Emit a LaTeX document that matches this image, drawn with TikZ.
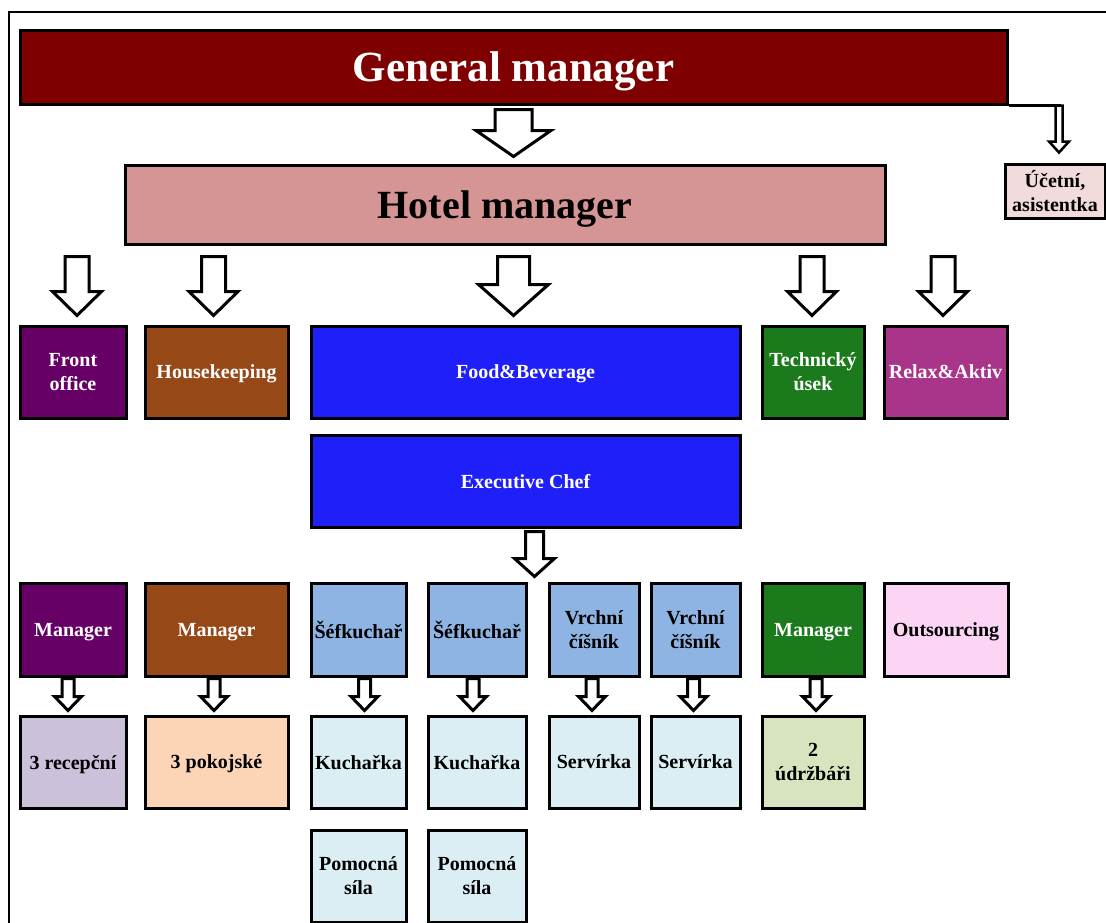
\documentclass[tikz,border=0pt]{standalone}
\usepackage{fontspec}
\setmainfont{Liberation Serif}
\usetikzlibrary{calc}
\definecolor{gmred}{HTML}{7F0000}
\definecolor{hmpink}{HTML}{D69595}
\definecolor{ucetpink}{HTML}{F2DCDB}
\definecolor{fopurple}{HTML}{660066}
\definecolor{hkbrown}{HTML}{974817}
\definecolor{fbblue}{HTML}{1F1FFA}
\definecolor{tugreen}{HTML}{1B7A1B}
\definecolor{ramag}{HTML}{A9358A}
\definecolor{chefblue}{HTML}{8EB4E3}
\definecolor{staffblue}{HTML}{DBEEF4}
\definecolor{recep}{HTML}{CCC1DA}
\definecolor{pokoj}{HTML}{FBD5B5}
\definecolor{udrz}{HTML}{D7E4BD}
\definecolor{outs}{HTML}{FCD5F4}
\tikzset{
  box/.style={draw=black, line width=3pt, inner sep=0pt, align=center,
    font=\fontsize{20}{24}\selectfont\bfseries, text=black},
  oneline/.style={text depth=0pt},
  dark/.style={text=white},
  barrowstyle/.style={draw=black, line width=3pt, fill=white, line join=miter},
  framestyle/.style={draw=black, line width=2pt}
}
\newcommand\hblockarrow[6][]{%
  \draw[barrowstyle,#1] let \p1=#2, \p2=#3 in
    (\x2-#4,\y1) -- (\x2+#4,\y1) -- (\x2+#4,\y2+#6) -- (\x2+#5,\y2+#6)
    -- (\x2,\y2) -- (\x2-#5,\y2+#6) -- (\x2-#4,\y2+#6) -- cycle;}
\begin{document}
\begin{tikzpicture}[x=1pt,y=-1pt]
\useasboundingbox (0,0) rectangle (1106,922);
\draw[framestyle] (9,925) -- (9,12) -- (1110,12);

% top level
\node[box, oneline, dark, fill=gmred, minimum width=987pt, minimum height=74pt,
  font=\fontsize{43}{48}\selectfont\bfseries] (gm) at (513.5,67) {General manager};
\node[box, oneline, fill=hmpink, minimum width=760pt, minimum height=79pt,
  font=\fontsize{40}{46}\selectfont\bfseries] (hm) at (505,204.5) {Hotel manager};
\node[box, fill=ucetpink, minimum width=100pt, minimum height=54pt] (ucet) at (1055,191) {Účetní,\\asistentka};

% row 2
\node[box, dark, fill=fopurple, minimum width=106pt, minimum height=92pt] (fo) at (73,372) {Front\\office};
\node[box, oneline, dark, fill=hkbrown, minimum width=143pt, minimum height=92pt] (hk) at (216.5,372) {Housekeeping};
\node[box, oneline, dark, fill=fbblue, minimum width=429pt, minimum height=92pt] (fb) at (525.5,372) {Food\&Beverage};
\node[box, dark, fill=tugreen, minimum width=102pt, minimum height=92pt] (tu) at (813,372) {Technický\\úsek};
\node[box, oneline, dark, fill=ramag, minimum width=123pt, minimum height=92pt] (ra) at (945.5,372) {Relax\&Aktiv};
\node[box, oneline, dark, fill=fbblue, minimum width=429pt, minimum height=92pt] (ec) at (525.5,481) {Executive Chef};

% row 3
\node[box, oneline, dark, fill=fopurple, minimum width=106pt, minimum height=93pt] (m1) at (73,629.5) {Manager};
\node[box, oneline, dark, fill=hkbrown, minimum width=143pt, minimum height=93pt] (m2) at (216.5,629.5) {Manager};
\node[box, oneline, fill=chefblue, minimum width=95pt, minimum height=93pt] (s1) at (358.5,629.5) {Šéfkuchař};
\node[box, oneline, fill=chefblue, minimum width=98pt, minimum height=93pt] (s2) at (477,629.5) {Šéfkuchař};
\node[box, fill=chefblue, minimum width=90pt, minimum height=93pt] (v1) at (594,629.5) {Vrchní\\číšník};
\node[box, fill=chefblue, minimum width=89pt, minimum height=93pt] (v2) at (695.5,629.5) {Vrchní\\číšník};
\node[box, oneline, dark, fill=tugreen, minimum width=102pt, minimum height=93pt] (m3) at (813,629.5) {Manager};
\node[box, oneline, fill=outs, minimum width=124pt, minimum height=93pt] (out) at (946,629.5) {Outsourcing};

% row 4
\node[box, oneline, fill=recep, minimum width=106pt, minimum height=92pt] (r) at (73,762) {3 recepční};
\node[box, oneline, fill=pokoj, minimum width=143pt, minimum height=92pt] (p) at (216.5,762) {3 pokojské};
\node[box, oneline, fill=staffblue, minimum width=95pt, minimum height=92pt] (k1) at (358.5,762) {Kuchařka};
\node[box, oneline, fill=staffblue, minimum width=98pt, minimum height=92pt] (k2) at (477,762) {Kuchařka};
\node[box, oneline, fill=staffblue, minimum width=90pt, minimum height=92pt] (sv1) at (594,762) {Servírka};
\node[box, oneline, fill=staffblue, minimum width=89pt, minimum height=92pt] (sv2) at (695.5,762) {Servírka};
\node[box, fill=udrz, minimum width=102pt, minimum height=92pt] (ud) at (813,762) {2\\údržbáři};

% row 5
\node[box, fill=staffblue, minimum width=95pt, minimum height=92pt] (ps1) at (358.5,876) {Pomocná\\síla};
\node[box, fill=staffblue, minimum width=98pt, minimum height=92pt] (ps2) at (477,876) {Pomocná\\síla};

% connectors
\hblockarrow{($(gm.south)+(0,4)$)}{($(gm.south |- hm.north)+(0,-7)$)}{18.5pt}{37.5pt}{26pt}
\draw[line width=2.5pt] (gm.south east) -- ($(gm.south east -| ucet.north)+(6,0)$);
\hblockarrow[line width=2.5pt]{(gm.south)}{($(ucet.north)+(4,-10)$)}{3.5pt}{10pt}{11pt}

\hblockarrow{($(hm.south)+(0,11)$)}{($(fo.north)+(4,-9)$)}{12pt}{24.5pt}{24pt}
\hblockarrow{($(hm.south)+(0,11)$)}{($(hk.north)+(-3,-9)$)}{12pt}{24.5pt}{24pt}
\hblockarrow{($(hm.south)+(0,11)$)}{($(fb.north)+(-12,-9)$)}{16pt}{35pt}{31pt}
\hblockarrow{($(hm.south)+(0,11)$)}{($(tu.north)+(-1,-9)$)}{12pt}{24.5pt}{24pt}
\hblockarrow{($(hm.south)+(0,11)$)}{($(ra.north)+(-2.5,-9)$)}{12pt}{24.5pt}{24pt}

\hblockarrow{($(ec.south)+(0,3)$)}{($(s2.north east)!0.5!(v1.north west)+(-3,-5)$)}{9pt}{20pt}{18pt}

\hblockarrow{($(m1.south)+(0,1)$)}{($(r.north)+(-5,-4)$)}{6pt}{13.5pt}{14pt}
\hblockarrow{($(m2.south)+(0,1)$)}{($(p.north)+(-2.5,-4)$)}{6pt}{13.5pt}{14pt}
\hblockarrow{($(s1.south)+(0,1)$)}{($(k1.north)+(6,-4)$)}{6pt}{13.5pt}{14pt}
\hblockarrow{($(s2.south)+(0,1)$)}{($(k2.north)+(-4,-4)$)}{6pt}{13.5pt}{14pt}
\hblockarrow{($(v1.south)+(0,1)$)}{($(sv1.north)+(-2,-4)$)}{6pt}{13.5pt}{14pt}
\hblockarrow{($(v2.south)+(0,1)$)}{($(sv2.north)+(-2,-4)$)}{6pt}{13.5pt}{14pt}
\hblockarrow{($(m3.south)+(0,1)$)}{($(ud.north)+(3,-4)$)}{6pt}{13.5pt}{14pt}
\end{tikzpicture}
\end{document}
